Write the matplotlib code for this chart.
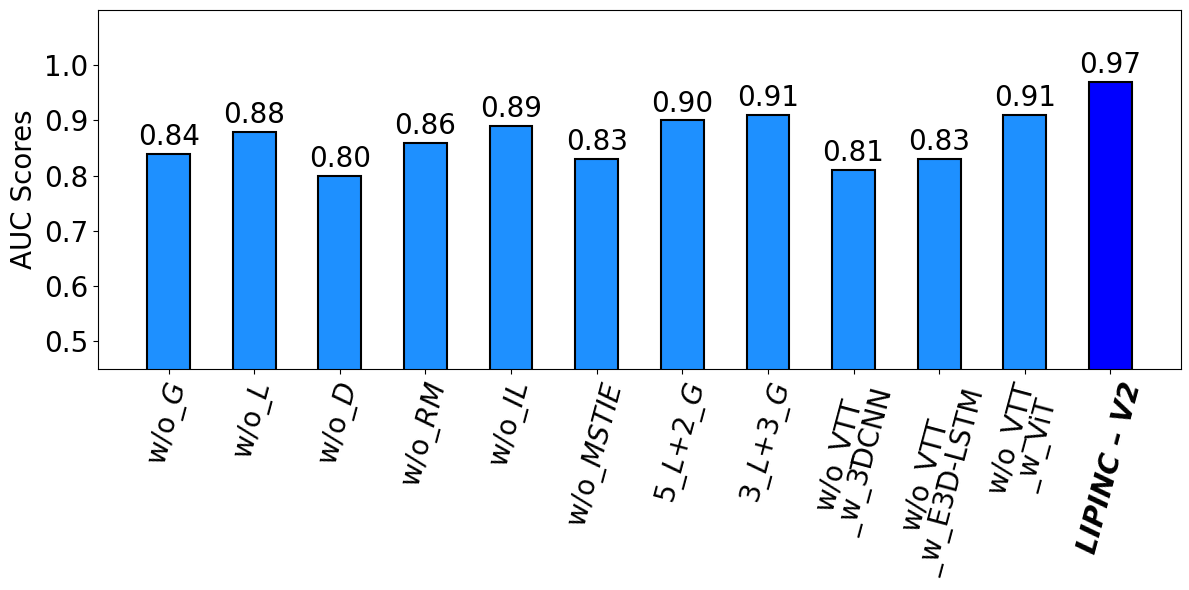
import matplotlib
matplotlib.use("Agg")
import matplotlib.pyplot as plt
import numpy as np

categories = ["w/o_$G$", "w/o_$L$", "w/o_$D$", "w/o_$RM$", "w/o_$IL$", "w/o_$MSTIE$",
              "5_$L$+2_$G$", "3_$L$+3_$G$", "w/o_VTT\n_w_3DCNN", "w/o_VTT\n_w_E3D-LSTM",
              "w/o_VTT\n_w_ViT", "LIPINC – V2"]
values = [0.84, 0.88, 0.80, 0.86, 0.89, 0.83, 0.90, 0.91, 0.81, 0.83, 0.91, 0.97]
colors = ["dodgerblue"] * 11 + ["blue"]

fig, ax = plt.subplots(figsize=(11.89, 5.9), dpi=100)
fig.subplots_adjust(left=0.0824, right=0.9933, top=0.983, bottom=0.3746)
x = np.arange(len(categories))
bars = ax.bar(x, values, width=0.5, color=colors, edgecolor="black", linewidth=1.5)
for b, v in zip(bars, values):
    ax.text(b.get_x() + b.get_width() / 2, v + 0.005, f"{v:.2f}", ha="center", va="bottom", fontsize=20)
ax.set_ylim(0.45, 1.1)
ax.set_yticks([0.5, 0.6, 0.7, 0.8, 0.9, 1.0])
ax.set_ylabel("AUC Scores", fontsize=20)
ax.set_xticks(x)
ax.set_xticklabels(categories, rotation=75, fontsize=20, ha="center", linespacing=0.9)
last = ax.get_xticklabels()[-1]
last.set_fontweight("bold")
last.set_fontstyle("italic")
ax.tick_params(axis="y", labelsize=20)
fig.savefig("out.png", dpi=100)
